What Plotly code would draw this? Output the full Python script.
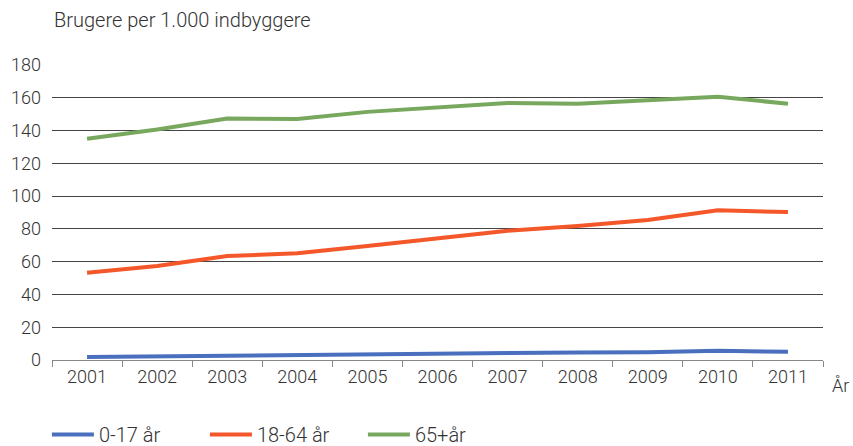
import plotly.graph_objects as go

years = ["2001", "2002", "2003", "2004", "2005", "2006", "2007", "2008", "2009", "2010", "2011"]
age_0_17 = [1.8, 2.2, 3.0, 3.2, 3.6, 4.0, 4.2, 4.6, 4.8, 5.6, 5.0]
age_18_64 = [53.3, 57.4, 63.4, 65.1, 69.5, 74.4, 78.9, 81.7, 85.4, 91.3, 90.3]
age_65_plus = [135.0, 140.6, 147.4, 147.0, 151.4, 154.2, 156.8, 156.4, 158.4, 160.6, 156.4]

series_names = ["0-17 år", "18-64 år", "65+år"]
colors = ["#4A6FBE", "#F4572A", "#78A85E"]

font_family = "Roboto, Liberation Sans, sans-serif"
txt = "#333333"

fig = go.Figure()
for name, vals, col in zip(series_names, [age_0_17, age_18_64, age_65_plus], colors):
    fig.add_trace(go.Scatter(x=years, y=vals, mode="lines", name=name,
                             line=dict(color=col, width=4)))

fig.update_layout(
    width=853, height=446,
    margin=dict(l=52, r=30, t=65, b=86, autoexpand=False),
    paper_bgcolor="white", plot_bgcolor="white",
    font=dict(family=font_family, size=18, color=txt, weight=300),
    showlegend=True,
    legend=dict(orientation="h", xref="container", yref="container",
                x=0.055, xanchor="left", y=0.026, yanchor="middle",
                font=dict(size=20, color=txt, weight=300), itemwidth=42,
                entrywidth=101, tracegroupgap=0),
    xaxis=dict(type="category", range=[-0.5, 10.5], showgrid=False, automargin=False,
               showline=True, linecolor="#888888", linewidth=1,
               ticks="outside", tickson="boundaries", ticklen=6, tickcolor="#888888",
               tickfont=dict(size=18, color=txt, weight=300), fixedrange=True),
    yaxis=dict(range=[0, 180], dtick=20, showgrid=True, gridcolor="#444444", gridwidth=1,
               automargin=False,
               showline=False, zeroline=False, ticks="", ticklabelstandoff=10,
               tickfont=dict(size=18, color=txt, weight=300), fixedrange=True),
    annotations=[
        dict(text="Brugere per 1.000 indbyggere", xref="paper", yref="paper",
             x=0, y=1.152, xanchor="left", yanchor="middle", showarrow=False,
             font=dict(size=20, color=txt, weight=300)),
        dict(text="År", xref="paper", yref="paper", x=1.036, y=-0.085,
             xanchor="right", yanchor="middle", showarrow=False,
             font=dict(size=18, color=txt, weight=300)),
    ],
)

fig.write_html("out.html", config={"displayModeBar": False},
               post_script="document.body.style.margin='0';document.body.style.overflow='hidden';")
